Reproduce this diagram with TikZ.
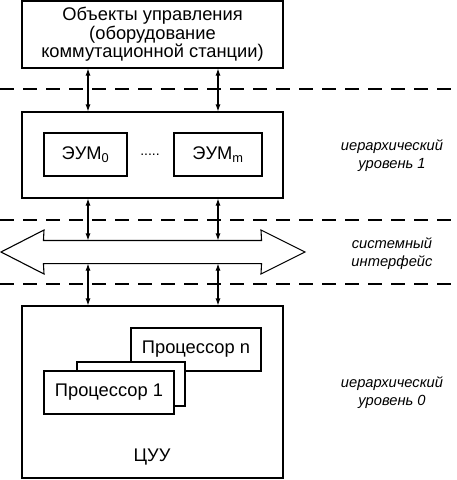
\documentclass[tikz,border=0pt]{standalone}
\usepackage{fontspec}
\setmainfont{Liberation Sans}
\usepackage{tikz}
\usetikzlibrary{positioning, arrows.meta, calc}

\begin{document}
\begin{tikzpicture}[x=1pt, y=-1pt, font=\fontsize{18.3}{18.5}\selectfont, >={Latex[length=7pt, width=5pt]}, line width=1.1pt]

    % --- Стили блоков ---
    \tikzset{
        block/.style={rectangle, draw=black, inner sep=0pt, align=center},
        bigblock/.style={block, minimum width=261pt},
        smallblock/.style={block, minimum height=43pt},
        grenze/.style={dashed, dash pattern=on 14pt off 9pt, line width=1.4pt},
        ebene/.style={align=center, font=\fontsize{14.7}{18}\selectfont\itshape}
    }

    \useasboundingbox (0,0) rectangle (457,480);

    % --- Блоки ---
    \node[bigblock, minimum height=67pt] (obj) at (152.5,34.5)
        {Объекты управления\\(оборудование\\коммутационной станции)};
    \node[bigblock, minimum height=86pt]  (lvl1) at (152.5,155) {};
    \node[smallblock, minimum width=83pt] (evm0) at (85.5,154.5) {ЭУМ\textsubscript{0}};
    \node[smallblock, minimum width=88pt] (evmm) at (218,154.5) {ЭУМ\textsubscript{m}};
    \node[font=\fontsize{14}{14}\selectfont] (dots) at (150,155) {.....};

    \node[bigblock, minimum height=172pt] (cuu) at (152.5,392) {};
    \node[smallblock, minimum width=130pt, fill=white] (procn) at (196,349.5) {Процессор n};
    \node[smallblock, minimum width=108pt, minimum height=44pt, fill=white] (shadow) at (131,384) {};
    \node[smallblock, minimum width=130pt, fill=white] (proc1) at (109,392.5) {Процессор 1};
    \node (cuulbl) at (152,457) {ЦУУ};

    % --- Системная шина ---
    \node[rectangle, minimum width=217pt, minimum height=22pt, inner sep=0pt] (bus) at (152.5,252) {};
    \draw (1,252) -- (44,230) -- (bus.north west) -- (bus.north east) -- (261,230)
        -- (305,252) -- (261,274) -- (bus.south east) -- (bus.south west) -- (44,274) -- cycle;

    % --- Границы уровней ---
    \draw[grenze] (0,89) -- (457,89);
    \draw[grenze] (0,220) -- (457,220);
    \draw[grenze] (0,284) -- (457,284);

    % --- Связи ---
    \coordinate (colA) at (88,0);
    \coordinate (colB) at (218,0);
    \foreach \col in {colA, colB} {
        \draw[<->] (obj.south -| \col) -- (lvl1.north -| \col);
        \draw[<->] (lvl1.south -| \col) -- (bus.north -| \col);
        \draw[<->] (bus.south -| \col) -- (cuu.north -| \col);
    }

    % --- Подписи уровней ---
    \node[ebene] (ebene1) at (392,156) {иерархический\\уровень 1};
    \node[ebene] (bus lbl) at (392,254) {системный\\интерфейс};
    \node[ebene] (ebene0) at (392,393) {иерархический\\уровень 0};

\end{tikzpicture}
\end{document}
